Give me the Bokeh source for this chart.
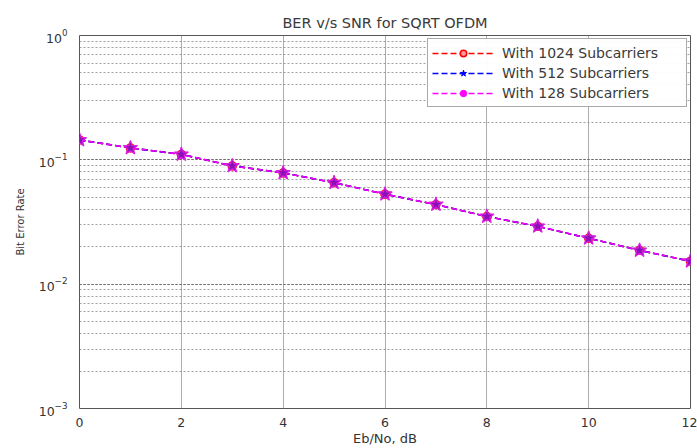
from bokeh.plotting import figure
from bokeh.models import Legend, LegendItem, FixedTicker, LogTicker
from bokeh.embed import file_html
from bokeh.resources import INLINE

ebno_db = [0, 1, 2, 3, 4, 5, 6, 7, 8, 9, 10, 11, 12]
ber_1024 = [0.1445, 0.1247, 0.1106, 0.0894, 0.0785, 0.0655, 0.0529, 0.0437, 0.0350, 0.0292, 0.0234, 0.0187, 0.0153]
ber_512 = [0.1445, 0.1247, 0.1106, 0.0894, 0.0785, 0.0655, 0.0529, 0.0437, 0.0350, 0.0292, 0.0234, 0.0187, 0.0153]
ber_128 = [0.1445, 0.1247, 0.1106, 0.0894, 0.0785, 0.0655, 0.0529, 0.0437, 0.0350, 0.0292, 0.0234, 0.0187, 0.0153]
x_ticks = [0, 2, 4, 6, 8, 10, 12]
labels = ["With 1024 Subcarriers", "With 512 Subcarriers", "With 128 Subcarriers"]

FONT = "DejaVu Sans"

p = figure(width=697, height=448, y_axis_type="log", x_range=(0, 12), y_range=(1e-3, 1),
           output_backend="svg", toolbar_location=None,
           min_border_left=79, min_border_right=7, min_border_top=35, min_border_bottom=38,
           title="BER v/s SNR for SQRT OFDM")
p.title.align = "center"
p.title.text_font = FONT
p.title.text_font_size = "14.5px"
p.title.text_font_style = "normal"
p.title.text_color = "#3a3a3a"
p.title.offset = 0

p.outline_line_color = "#555555"
p.outline_line_width = 1
p.background_fill_color = "white"

p.xaxis.ticker = FixedTicker(ticks=x_ticks)
p.yaxis.ticker = LogTicker(num_minor_ticks=10)
for ax in (p.xaxis[0], p.yaxis[0]):
    ax.axis_line_color = None
    ax.major_tick_line_color = None
    ax.minor_tick_line_color = None
    ax.major_label_text_font = FONT
    ax.major_label_text_font_size = "12.5px"
    ax.major_label_text_color = "#333333"
    ax.axis_label_text_font = FONT
    ax.axis_label_text_font_style = "normal"
    ax.axis_label_text_color = "#333333"
p.xaxis.axis_label = "Eb/No, dB"
p.xaxis.axis_label_text_font_size = "13px"
p.xaxis.axis_label_standoff = 1
p.xaxis.major_label_standoff = 3
p.yaxis.axis_label = "Bit Error Rate"
p.yaxis.axis_label_text_font_size = "10px"
p.yaxis.axis_label_standoff = 10
p.yaxis.major_label_standoff = 6

p.xgrid.grid_line_color = "#999999"
p.xgrid.grid_line_alpha = 0.8
p.ygrid.grid_line_color = "#666666"
p.ygrid.grid_line_dash = "2 2"
p.ygrid.minor_grid_line_color = "#888888"
p.ygrid.minor_grid_line_dash = "2 2"
p.ygrid.minor_grid_line_alpha = 0.8

r1l = p.line(ebno_db, ber_1024, line_color="#ff0000", line_dash="6 3", line_width=1.6)
r1m = p.scatter(ebno_db, ber_1024, marker="circle", size=8, line_color="#ff0000", fill_color="#ff9999",
                line_width=1.5)
r2l = p.line(ebno_db, ber_512, line_color="#0000ff", line_dash="6 3", line_width=1.6)
r2m = p.scatter(ebno_db, ber_512, marker="star", size=13, line_color="#0000ff", fill_color="#0000ff")
r3l = p.line(ebno_db, ber_128, line_color="#ff00ff", line_dash="6 3", line_width=1.4)
r3m = p.scatter(ebno_db, ber_128, marker="circle", size=5, line_color="#ff00ff", fill_color="#ff00ff")
# blended look of the overlapping markers in the plot area
p.scatter(ebno_db, ber_128, marker="star", size=15, line_color="#e020e0", fill_color="#8a10b8",
          line_width=1.2)

legend = Legend(items=[
    LegendItem(label=labels[0], renderers=[r1l, r1m]),
    LegendItem(label=labels[1], renderers=[r2l, r2m]),
    LegendItem(label=labels[2], renderers=[r3l, r3m]),
], location="top_right")
legend.label_text_font = FONT
legend.label_text_font_size = "14px"
legend.label_text_color = "#3a3a3a"
legend.glyph_width = 62
legend.glyph_height = 16
legend.label_height = 19
legend.label_width = 180
legend.spacing = 1
legend.padding = 4
legend.margin = 3
legend.border_line_color = "#555555"
legend.label_standoff = 8
p.add_layout(legend)

open("out.html", "w").write(file_html(p, INLINE))
